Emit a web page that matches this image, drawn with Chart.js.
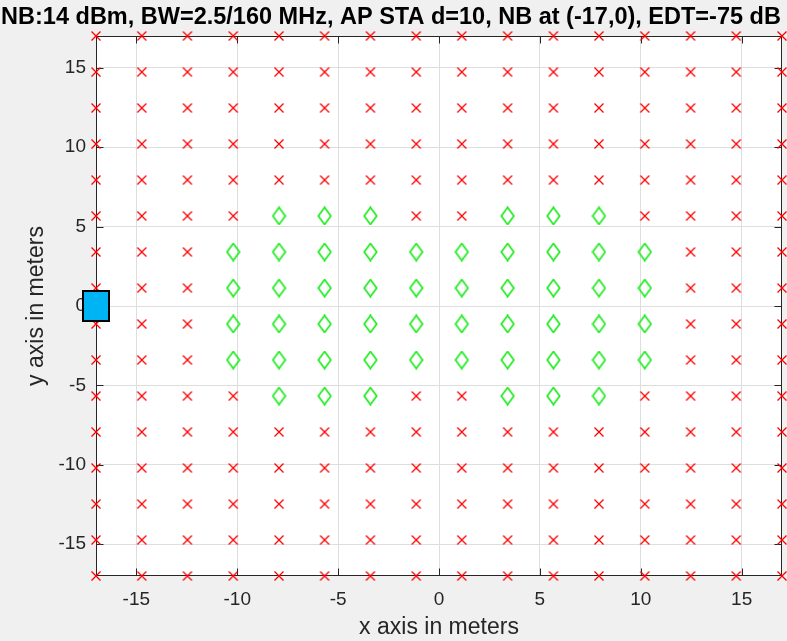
<!DOCTYPE html>
<html>
<head>
<meta charset="utf-8">
<script src="https://cdn.jsdelivr.net/npm/chart.js@4/dist/chart.umd.min.js"></script>
<style>
html,body{margin:0;padding:0;background:#f0f0f0;}
#wrap{width:787px;height:641px;position:relative;}
</style>
</head>
<body>
<div id="wrap"><canvas id="c" width="787" height="641"></canvas></div>
<script>
// ---- data ----
const titleText = 'NB:14 dBm, BW=2.5/160 MHz, AP STA d=10, NB at (-17,0), EDT=-75 dB';
const xLabel = 'x axis in meters';
const yLabel = 'y axis in meters';
const xTicks = [-15, -10, -5, 0, 5, 10, 15];
const yTicks = [-15, -10, -5, 0, 5, 10, 15];
const gridX = [-17, -14.73, -12.47, -10.2, -7.93, -5.67, -3.4, -1.13, 1.13, 3.4, 5.67, 7.93, 10.2, 12.47, 14.73, 17];
const gridY = [17, 14.73, 12.47, 10.2, 7.93, 5.67, 3.4, 1.13, -1.13, -3.4, -5.67, -7.93, -10.2, -12.47, -14.73, -17];
const greenRowY = [5.67, 3.4, 1.13, -1.13, -3.4, -5.67];
const greenRowX = [
  [-7.93, -5.67, -3.4, 3.4, 5.67, 7.93],
  [-10.2, -7.93, -5.67, -3.4, -1.13, 1.13, 3.4, 5.67, 7.93, 10.2],
  [-10.2, -7.93, -5.67, -3.4, -1.13, 1.13, 3.4, 5.67, 7.93, 10.2],
  [-10.2, -7.93, -5.67, -3.4, -1.13, 1.13, 3.4, 5.67, 7.93, 10.2],
  [-10.2, -7.93, -5.67, -3.4, -1.13, 1.13, 3.4, 5.67, 7.93, 10.2],
  [-7.93, -5.67, -3.4, 3.4, 5.67, 7.93]
];
const nbX = [-17];
const nbY = [0];

// ---- build point lists ----
const greenPts = [];
greenRowY.forEach((y, i) => greenRowX[i].forEach(x => greenPts.push({x, y})));
const isGreen = (x, y) => greenPts.some(p => p.x === x && p.y === y);
const redPts = [];
gridY.forEach(y => gridX.forEach(x => { if (!isGreen(x, y)) redPts.push({x, y}); }));
const nbPts = nbX.map((x, i) => ({x, y: nbY[i]}));

// ---- marker images ----
function mk(w, h, fn) { const c = document.createElement('canvas'); c.width = w; c.height = h; fn(c.getContext('2d')); return c; }
const redX = mk(12, 12, g => {
  g.strokeStyle = 'rgb(255,0,0)'; g.lineWidth = 1.3;
  g.beginPath(); g.moveTo(1.5, 1.5); g.lineTo(10.5, 10.5); g.moveTo(10.5, 1.5); g.lineTo(1.5, 10.5); g.stroke();
});
const greenD = mk(15, 19, g => {
  g.strokeStyle = 'rgb(20,235,20)'; g.lineWidth = 1.6;
  g.beginPath(); g.moveTo(7.5, 1); g.lineTo(13.8, 9.5); g.lineTo(7.5, 18); g.lineTo(1.2, 9.5); g.closePath(); g.stroke();
});
const blueSq = mk(28, 32, g => {
  g.fillStyle = '#00b4f4'; g.fillRect(1, 1, 26, 30);
  g.strokeStyle = '#000'; g.lineWidth = 2; g.strokeRect(1, 1, 26, 30);
});

const FONT = "'Liberation Sans', Arial, sans-serif";
const AX = '#262626';

const framePlugin = {
  id: 'frame',
  beforeDraw(chart) {
    const {ctx, chartArea: a} = chart;
    ctx.save(); ctx.fillStyle = '#ffffff';
    ctx.fillRect(a.left, a.top, a.right - a.left, a.bottom - a.top); ctx.restore();
  },
  beforeDatasetsDraw(chart) {
    const {ctx, chartArea: a, scales} = chart;
    ctx.save();
    ctx.strokeStyle = AX; ctx.lineWidth = 1;
    const L = Math.round(a.left) + 0.5, R = Math.round(a.right) - 0.5, T = Math.round(a.top) + 0.5, B = Math.round(a.bottom) - 0.5;
    ctx.beginPath(); ctx.rect(L, T, R - L, B - T); ctx.stroke();
    const tl = 7;
    ctx.beginPath();
    xTicks.forEach(v => { const x = Math.round(scales.x.getPixelForValue(v)) + 0.5;
      ctx.moveTo(x, B); ctx.lineTo(x, B - tl); ctx.moveTo(x, T); ctx.lineTo(x, T + tl); });
    yTicks.forEach(v => { const y = Math.round(scales.y.getPixelForValue(v)) + 0.5;
      ctx.moveTo(L, y); ctx.lineTo(L + tl, y); ctx.moveTo(R, y); ctx.lineTo(R - tl, y); });
    ctx.stroke();
    ctx.restore();
  }
};

new Chart(document.getElementById('c'), {
  type: 'scatter',
  data: {
    datasets: [
      { label: 'NB', data: nbPts, pointStyle: blueSq, clip: false },
      { label: 'good', data: greenPts, pointStyle: greenD, clip: false },
      { label: 'bad', data: redPts, pointStyle: redX, clip: false }
    ]
  },
  options: {
    responsive: false,
    animation: false,
    events: [],
    layout: { padding: { left: 0, right: 5, top: 0, bottom: 0 } },
    plugins: {
      legend: { display: false },
      tooltip: { enabled: false },
      title: {
        display: true, text: titleText, color: '#000',
        font: { family: FONT, size: 23.5, weight: 'bold', lineHeight: 1.2 },
        padding: { top: 3.5, bottom: 4.3 }
      }
    },
    scales: {
      x: {
        type: 'linear', min: -17, max: 17,
        afterBuildTicks: s => { s.ticks = xTicks.map(v => ({value: v})); },
        afterFit: s => { s.height = 65; },
        grid: { color: '#dedede', drawTicks: false, lineWidth: 1 },
        border: { display: false },
        ticks: { color: AX, font: { family: FONT, size: 19 }, padding: 12, maxRotation: 0, autoSkip: false },
        title: { display: true, text: xLabel, color: AX, font: { family: FONT, size: 23 }, padding: { top: 0, bottom: 0 } }
      },
      y: {
        type: 'linear', min: -17, max: 17,
        afterBuildTicks: s => { s.ticks = yTicks.map(v => ({value: v})); },
        afterFit: s => { s.width = 96; },
        grid: { color: '#dedede', drawTicks: false, lineWidth: 1 },
        border: { display: false },
        ticks: { color: AX, font: { family: FONT, size: 19 }, padding: 10, autoSkip: false },
        title: { display: true, text: yLabel, color: AX, font: { family: FONT, size: 23 }, padding: { top: 23, bottom: 0 } }
      }
    }
  },
  plugins: [framePlugin]
});
</script>
</body>
</html>
